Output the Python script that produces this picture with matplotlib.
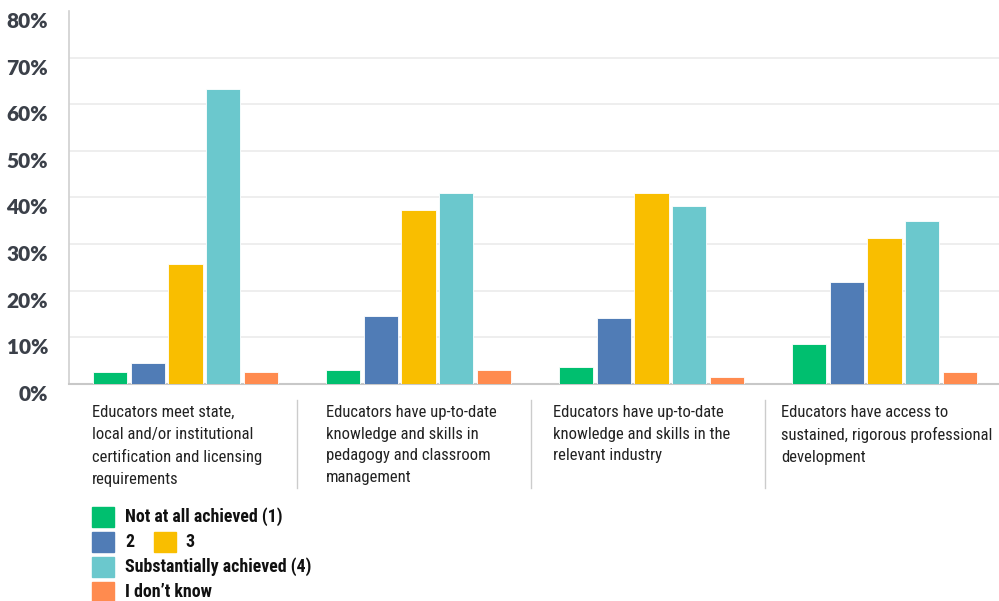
import matplotlib
matplotlib.use("Agg")
import matplotlib.pyplot as plt
import matplotlib.transforms as mtransforms
from matplotlib import font_manager
import numpy as np
from matplotlib.patches import Rectangle
from matplotlib.lines import Line2D

categories = [
    "Educators meet state,\nlocal and/or institutional\ncertification and licensing\nrequirements",
    "Educators have up-to-date\nknowledge and skills in\npedagogy and classroom\nmanagement",
    "Educators have up-to-date\nknowledge and skills in the\nrelevant industry",
    "Educators have access to\nsustained, rigorous professional\ndevelopment",
]
series_names = ["Not at all achieved (1)", "2", "3", "Substantially achieved (4)", "I don\u2019t know"]
not_at_all = [2.5, 2.9, 3.7, 8.6]
two = [4.5, 14.6, 14.1, 21.8]
three = [25.7, 37.3, 41.0, 31.3]
substantially = [63.3, 40.9, 38.2, 34.9]
dont_know = [2.5, 2.9, 1.4, 2.6]
yticks = [0, 10, 20, 30, 40, 50, 60, 70, 80]
ytick_labels = ["0%", "10%", "20%", "30%", "40%", "50%", "60%", "70%", "80%"]

colors = ["#00bf6f", "#507cb6", "#f9be00", "#6bc8cd", "#ff8b4f"]
series = [not_at_all, two, three, substantially, dont_know]

available = {f.name for f in font_manager.fontManager.ttflist}
narrow = None
for cand in ["Roboto Condensed", "Liberation Sans Narrow", "Open Sans Condensed", "DejaVu Sans Condensed"]:
    if cand in available:
        narrow = cand
        break
if narrow is None:
    narrow = "Roboto"
cond = [narrow, "DejaVu Sans"]
tickfont = ["Lato", "DejaVu Sans"]
lab_size = 12.0 if narrow != "Roboto" else 11.1
leg_size = lab_size * 1.07

fig = plt.figure(figsize=(9.99, 6.01), dpi=100)
W, H = 999, 601
ax_left, ax_right, ax_top, ax_bot = 69, 1001, 11, 384
ax = fig.add_axes([ax_left / W, 1 - ax_bot / H, (ax_right - ax_left) / W, (ax_bot - ax_top) / H])

x = np.arange(len(categories))
pitch = 0.161
bw = 0.146
for i, (vals, c) in enumerate(zip(series, colors)):
    ax.bar(x + (i - 2) * pitch, vals, width=bw, color=c, edgecolor="white", linewidth=0.6, zorder=3)

ax.set_xlim(-0.5, 3.5)
ax.set_ylim(0, 80)
ax.set_yticks(yticks)
ax.set_yticklabels(ytick_labels, fontfamily=tickfont, fontweight="heavy", fontsize=15, color="#3b4049")
ax.tick_params(axis="y", length=0, pad=15)
offset = mtransforms.ScaledTranslation(0, -9 / 100, fig.dpi_scale_trans)
for lbl in ax.get_yticklabels():
    lbl.set_transform(lbl.get_transform() + offset)
ax.set_xticks([])
for v in yticks[1:-1]:
    ax.axhline(v, color="#ebebeb", linewidth=1.2, zorder=1)
for s in ["top", "right"]:
    ax.spines[s].set_visible(False)
ax.spines["left"].set_color("#d0d0d0")
ax.spines["bottom"].set_color("#c8c8c8")
ax.spines["left"].set_linewidth(1.2)
ax.spines["bottom"].set_linewidth(1.5)

# category labels
label_x = [92, 326, 553, 781]
for lx, txt in zip(label_x, categories):
    fig.text(lx / W, 1 - 405 / H, txt, ha="left", va="top", fontfamily=cond,
             fontsize=lab_size, color="#222222", linespacing=1.56)
for sx in [297, 531, 765]:
    fig.add_artist(Line2D([sx / W, sx / W], [1 - 400 / H, 1 - 488 / H], color="#cccccc", linewidth=1))

# legend
def patch(px, py, c):
    fig.add_artist(Rectangle((px / W, 1 - (py + 20) / H), 22 / W, 20 / H, color=c, transform=fig.transFigure))

def ltext(px, py, t):
    fig.text(px / W, 1 - (py + 10) / H, t, ha="left", va="center", fontfamily=cond,
             fontweight="bold", fontsize=leg_size, color="#111111")

patch(92, 507, colors[0]); ltext(125, 507, series_names[0])
patch(92, 532, colors[1]); ltext(125, 532, series_names[1])
patch(154, 532, colors[2]); ltext(185, 532, series_names[2])
patch(92, 557, colors[3]); ltext(125, 557, series_names[3])
patch(92, 582, colors[4]); ltext(125, 582, series_names[4])

fig.savefig("out.png", dpi=100, facecolor="white")
